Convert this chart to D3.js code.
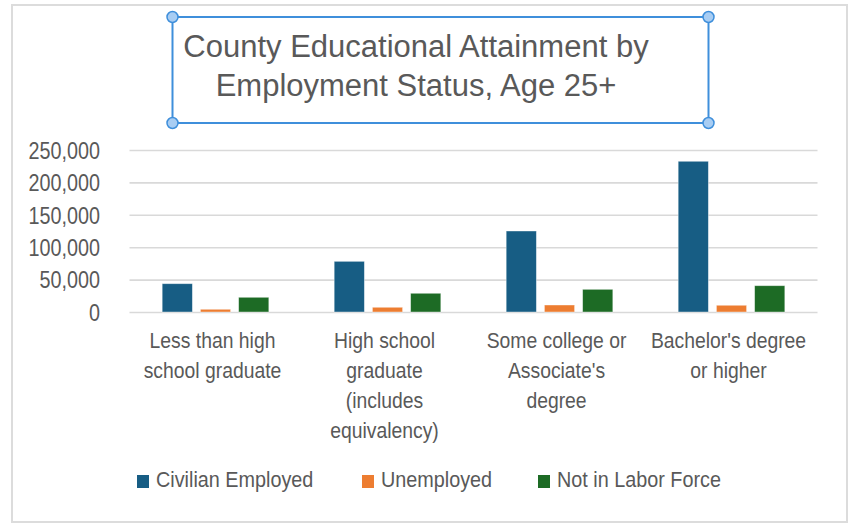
<!DOCTYPE html>
<html>
<head>
<meta charset="utf-8">
<script src="https://cdn.jsdelivr.net/npm/d3@7"></script>
<style>
  html, body { margin: 0; padding: 0; background: #fff; }
  svg { display: block; font-family: "Liberation Sans", Arial, sans-serif; }
</style>
</head>
<body>
<svg id="chart" width="849" height="523"></svg>
<script>
// Educational attainment categories (label lines)
const categories = [
  ["Less than high", "school graduate"],
  ["High school", "graduate", "(includes", "equivalency)"],
  ["Some college or", "Associate's", "degree"],
  ["Bachelor's degree", "or higher"]
];
const categoryKeys = ["lt_hs", "hs", "some_college", "bachelors"];

// Series
const seriesNames = ["Civilian Employed", "Unemployed", "Not in Labor Force"];
const seriesColors = ["#175d84", "#ed7d31", "#1d6b25"];
const employed    = [43700, 78200, 125000, 232600];
const unemployed  = [4200, 7300, 10800, 10400];
const notInLabor  = [22700, 28900, 35000, 40600];
const seriesValues = [employed, unemployed, notInLabor];

// Axis ticks
const yTicks = [0, 50000, 100000, 150000, 200000, 250000];

const titleLines = ["County Educational Attainment by", "Employment Status, Age 25+"];

const svg = d3.select("#chart");
const textColor = "#595959";

// Outer chart border
svg.append("rect")
  .attr("x", 12).attr("y", 5).attr("width", 835).attr("height", 517)
  .attr("fill", "#fff").attr("stroke", "#dcdcdc").attr("stroke-width", 2);

// Scales
const plotLeft = 129.5, plotRight = 817.5;
const x0 = d3.scaleBand().domain(categoryKeys).range([plotLeft, plotRight])
  .paddingInner(0.38).paddingOuter(0.19);
const x1 = d3.scaleBand().domain(seriesNames).range([0, x0.bandwidth()])
  .paddingInner(0.21).paddingOuter(0);
const y = d3.scaleLinear().domain([0, 250000]).range([312, 150]);

// Gridlines + y labels (condensed text)
const ySx = 0.86;
const yAxis = d3.axisLeft(y).tickValues(yTicks).tickFormat(d3.format(","))
  .tickSize(-(plotRight - plotLeft)).tickPadding(0);
const gy = svg.append("g").attr("transform", `translate(${plotLeft},0)`).call(yAxis);
gy.select(".domain").remove();
gy.selectAll(".tick line").attr("stroke", "#d9d9d9").attr("stroke-width", 1.6);
gy.selectAll(".tick text")
  .attr("fill", textColor)
  .attr("font-size", 23)
  .attr("font-family", "Liberation Sans, Arial, sans-serif")
  .attr("x", -29.5 / ySx)
  .attr("dy", "0.36em")
  .attr("transform", `scale(${ySx},1)`);

// Bars
const groups = svg.append("g").selectAll("g")
  .data(categoryKeys)
  .join("g")
  .attr("transform", d => `translate(${x0(d)},0)`);

groups.selectAll("rect")
  .data((d, i) => seriesNames.map((s, j) => ({ s, j, v: seriesValues[j][i] })))
  .join("rect")
  .attr("x", d => x1(d.s))
  .attr("width", x1.bandwidth())
  .attr("y", d => y(d.v))
  .attr("height", d => y(0) - y(d.v))
  .attr("fill", d => seriesColors[d.j])
  .attr("stroke", "#ffffff")
  .attr("stroke-opacity", 0.5)
  .attr("stroke-width", 0.8);

// Category labels
const catSx = 0.9;
const lineGap = 30;
svg.append("g").selectAll("text")
  .data(categoryKeys)
  .join("text")
  .attr("transform", d => `translate(${x0(d) + x0.bandwidth() / 2 - 3},348) scale(${catSx},1)`)
  .attr("text-anchor", "middle")
  .attr("fill", textColor)
  .attr("font-size", 21.5)
  .each(function(d, i) {
    d3.select(this).selectAll("tspan")
      .data(categories[i])
      .join("tspan")
      .attr("x", 0)
      .attr("y", (t, k) => k * lineGap)
      .text(t => t);
  });

// Legend
const legendX = [137, 362, 538];
const legend = svg.append("g").selectAll("g")
  .data(seriesNames)
  .join("g")
  .attr("transform", (d, i) => `translate(${legendX[i]},0)`);
legend.append("rect")
  .attr("x", 0).attr("y", 475).attr("width", 12).attr("height", 13)
  .attr("fill", (d, i) => seriesColors[i]);
legend.append("text")
  .attr("transform", `translate(19,487) scale(0.88,1)`)
  .attr("fill", textColor)
  .attr("font-size", 22.5)
  .text(d => d);

// Title
const title = svg.append("g");
title.selectAll("text")
  .data(titleLines)
  .join("text")
  .attr("x", 416)
  .attr("y", (d, i) => 57 + i * 38.5)
  .attr("text-anchor", "middle")
  .attr("fill", textColor)
  .attr("font-size", 31)
  .text(d => d);

// Title selection frame with corner handles
const frame = { x0: 172.5, y0: 17, x1: 708.5, y1: 123 };
title.append("rect")
  .attr("x", frame.x0).attr("y", frame.y0)
  .attr("width", frame.x1 - frame.x0).attr("height", frame.y1 - frame.y0)
  .attr("fill", "none").attr("stroke", "#3f8fdb").attr("stroke-width", 2);
title.selectAll("circle")
  .data([[frame.x0, frame.y0], [frame.x1, frame.y0], [frame.x0, frame.y1], [frame.x1, frame.y1]])
  .join("circle")
  .attr("cx", d => d[0]).attr("cy", d => d[1]).attr("r", 5.5)
  .attr("fill", "#a8cdf3").attr("stroke", "#3f8fdb").attr("stroke-width", 1.5);
</script>
</body>
</html>
